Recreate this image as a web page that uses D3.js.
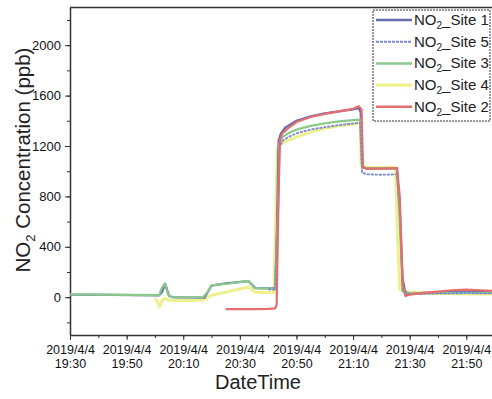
<!DOCTYPE html>
<html>
<head>
<meta charset="utf-8">
<script src="https://cdn.jsdelivr.net/npm/d3@7"></script>
<style>
  body { margin: 0; background: #fff; }
  svg, svg text { font-family: "Liberation Sans", Arial, sans-serif; }
  .axis text { font-size: 12.5px; fill: #111; font-family: "Liberation Sans", Arial, sans-serif; }
  .y-axis text { font-size: 13px; }
  .axis path, .axis line { stroke: #333; }
</style>
</head>
<body>
<div id="svg-container"></div>
<script>
// ---------------- data ----------------
const siteNames = ["Site 1", "Site 5", "Site 3", "Site 4", "Site 2"];
const siteColors = ["#676cb3", "#7a8ad2", "#8cc98c", "#eef08c", "#e56d6d"];

const site1Times = ["19:30:00","19:45:00","20:01:30","20:02:30","20:03:40","20:05:00","20:07:00","20:17:30","20:20:00","20:25:00","20:33:00","20:35:30","20:42:30","20:43:10","20:43:40","20:44:30","20:46:00","20:50:00","20:55:00","21:00:00","21:05:00","21:10:00","21:12:00","21:12:40","21:13:20","21:15:00","21:20:00","21:25:30","21:26:30","21:27:30","21:28:30","21:35:00","21:45:00","21:55:00","22:00:00"];
const site1Values = [20,18,15,40,105,10,-2,-4,92,110,128,72,70,600,1240,1300,1345,1400,1435,1460,1475,1490,1500,1470,1030,1020,1020,1025,700,150,25,35,42,40,38];

const site5Times = ["20:40:00","20:42:30","20:43:20","20:44:00","20:45:00","20:47:00","20:50:00","20:55:00","21:00:00","21:05:00","21:10:00","21:12:30","21:13:10","21:15:00","21:20:00","21:25:30","21:26:30","21:27:30","21:30:00","21:40:00","21:50:00","22:00:00"];
const site5Values = [62,60,500,1180,1240,1270,1300,1330,1350,1365,1378,1385,990,975,972,975,700,60,25,30,32,30];

const site3Times = ["19:30:00","19:40:00","19:50:00","20:00:00","20:01:30","20:02:10","20:03:30","20:04:40","20:05:40","20:10:00","20:17:00","20:18:30","20:20:00","20:25:00","20:30:00","20:33:00","20:35:00","20:38:00","20:42:30","20:43:30","20:44:00","20:45:00","20:47:00","20:50:00","20:55:00","21:00:00","21:05:00","21:10:00","21:12:30","21:13:10","21:15:00","21:20:00","21:25:30","21:26:30","21:27:30","21:30:00","21:40:00","21:50:00","22:00:00"];
const site3Values = [22,20,18,16,15,60,110,20,0,-2,0,40,95,105,120,130,75,68,68,700,1220,1270,1300,1330,1360,1380,1395,1405,1410,1040,1020,1020,1025,600,45,30,32,35,33];

const site4Times = ["20:00:00","20:01:00","20:01:40","20:02:30","20:03:30","20:05:00","20:10:00","20:17:00","20:20:00","20:25:00","20:30:00","20:33:00","20:35:30","20:42:00","20:42:40","20:43:10","20:45:00","20:50:00","20:55:00","21:00:00","21:05:00","21:10:00","21:12:30","21:12:50","21:15:00","21:20:00","21:25:00","21:25:40","21:26:30","21:30:00","21:40:00","21:50:00","22:00:00"];
const site4Values = [-10,-40,-75,-30,-10,-25,-28,-22,15,40,65,80,40,35,600,1180,1225,1270,1310,1340,1360,1375,1385,1050,1030,1030,1030,500,60,40,30,25,25];

const site2Times = ["20:25:00","20:35:00","20:40:00","20:42:30","20:43:00","20:43:40","20:44:10","20:45:00","20:47:00","20:50:00","20:55:00","21:00:00","21:05:00","21:10:00","21:12:00","21:13:00","21:13:30","21:15:00","21:20:00","21:25:30","21:26:30","21:27:30","21:28:30","21:30:00","21:35:00","21:40:00","21:45:00","21:50:00","21:55:00","22:00:00"];
const site2Values = [-95,-95,-92,-88,-60,800,1250,1300,1340,1390,1430,1455,1475,1495,1515,1490,1030,1020,1020,1025,800,100,10,20,35,45,55,60,55,50];

const xTicks = ["19:30","19:50","20:10","20:30","20:50","21:10","21:30","21:50"];
const yTicks = [0, 400, 800, 1200, 1600, 2000];
const dateLabel = "2019/4/4";

// ---------------- init ----------------
const width = 492;
const height = 399;
const margin = { top: 7.4, right: -2.6, bottom: 64, left: 70 };

const svg = d3.select("#svg-container").append("svg")
  .attr("width", width).attr("height", height);

const parseTime = d3.timeParse("%H:%M:%S");
const parseTick = d3.timeParse("%H:%M");

const series = [
  { name: siteNames[0], color: siteColors[0], times: site1Times, values: site1Values, w: 2.2, dash: null },
  { name: siteNames[1], color: siteColors[1], times: site5Times, values: site5Values, w: 1.8, dash: "3,1" },
  { name: siteNames[2], color: siteColors[2], times: site3Times, values: site3Values, w: 2.2, dash: null },
  { name: siteNames[3], color: siteColors[3], times: site4Times, values: site4Values, w: 3, dash: null },
  { name: siteNames[4], color: siteColors[4], times: site2Times, values: site2Values, w: 2.2, dash: null }
].map((s) => {
  s.data = s.times.map((t, i) => ({ t: parseTime(t), v: s.values[i] }));
  return s;
});

// scale
const xScale = d3.scaleTime()
  .domain([parseTime("19:30:00"), parseTime("22:00:00")])
  .range([margin.left, width - margin.right]);
const yScale = d3.scaleLinear()
  .domain([-300, 2300])
  .range([height - margin.bottom, margin.top]);

// minor ticks
const xMinor = d3.timeMinute.every(10).range(parseTime("19:30:00"), parseTime("22:00:01"));
const yMinor = d3.range(-200, 2300, 200);

svg.append("g")
  .attr("class", "axis")
  .attr("transform", `translate(0,${height - margin.bottom})`)
  .call(d3.axisBottom(xScale).tickValues(xMinor).tickSize(3).tickFormat(""))
  .call((g) => g.select(".domain").remove());

svg.append("g")
  .attr("class", "axis")
  .attr("transform", `translate(${margin.left},0)`)
  .call(d3.axisLeft(yScale).tickValues(yMinor).tickSize(3).tickFormat(""))
  .call((g) => g.select(".domain").remove());

// axis
const xAxis = svg.append("g")
  .attr("class", "axis x-axis")
  .attr("transform", `translate(0,${height - margin.bottom})`)
  .call(d3.axisBottom(xScale)
    .tickValues(xTicks.map(parseTick))
    .tickSize(5)
    .tickSizeOuter(0)
    .tickFormat(d3.timeFormat("%H:%M")));

xAxis.selectAll(".tick text").each(function () {
  const txt = d3.select(this);
  const time = txt.text();
  txt.text(null).attr("y", 0);
  txt.append("tspan").attr("x", 0).attr("dy", "1.5em").text(dateLabel);
  txt.append("tspan").attr("x", 0).attr("dy", "1.15em").text(time);
});

svg.append("g")
  .attr("class", "axis y-axis")
  .attr("transform", `translate(${margin.left},0)`)
  .call(d3.axisLeft(yScale).tickValues(yTicks).tickSize(5).tickSizeOuter(0).tickPadding(4)
    .tickFormat(d3.format("d")));

svg.selectAll(".axis").attr("font-family", null);
svg.selectAll(".axis .domain").attr("stroke-width", 1.5);

// top frame line
svg.append("line")
  .attr("x1", margin.left).attr("x2", width)
  .attr("y1", yScale(2300)).attr("y2", yScale(2300))
  .attr("stroke", "#333").attr("stroke-width", 1.5);

// lines
const line = d3.line()
  .x((d) => xScale(d.t))
  .y((d) => yScale(d.v));

const drawOrder = [3, 0, 2, 1, 4];
drawOrder.forEach((i) => {
  const s = series[i];
  svg.append("path")
    .datum(s.data)
    .attr("fill", "none")
    .attr("stroke", s.color)
    .attr("stroke-width", s.w)
    .attr("stroke-dasharray", s.dash)
    .attr("stroke-linejoin", "round")
    .attr("d", line);
});

// Units
svg.append("text")
  .attr("x", 258).attr("y", 389)
  .attr("text-anchor", "middle")
  .attr("font-size", 20)
  .attr("fill", "#222")
  .text("DateTime");

const yUnit = svg.append("text")
  .attr("transform", "translate(30,160) rotate(-90)")
  .attr("text-anchor", "middle")
  .attr("font-size", 20.5)
  .attr("fill", "#222");
yUnit.append("tspan").text("NO");
yUnit.append("tspan").attr("font-size", 13).attr("dy", 5).text("2");
yUnit.append("tspan").attr("dy", -5).text(" Concentration (ppb)");

// legend
const legend = svg.append("g").attr("transform", "translate(373,10)");
legend.append("rect")
  .attr("width", 117).attr("height", 111)
  .attr("fill", "#fff")
  .attr("stroke", "#333")
  .attr("stroke-dasharray", "2,1");

const legendItems = legend.selectAll(".legend-item")
  .data(series)
  .enter()
  .append("g")
  .attr("transform", (d, i) => `translate(0,${10 + 21.7 * i})`);

legendItems.append("line")
  .attr("x1", 3).attr("x2", 39)
  .attr("stroke", (d) => d.color)
  .attr("stroke-width", (d) => d.w + 0.3)
  .attr("stroke-dasharray", (d) => d.dash);

const legendTexts = legendItems.append("text")
  .attr("x", 41).attr("y", 5)
  .attr("font-size", 15)
  .attr("fill", "#222");
legendTexts.append("tspan").text("NO");
legendTexts.append("tspan").attr("font-size", 10).attr("dy", 4).text("2");
legendTexts.append("tspan").attr("dy", -4).text((d) => "_" + d.name);
</script>
</body>
</html>
